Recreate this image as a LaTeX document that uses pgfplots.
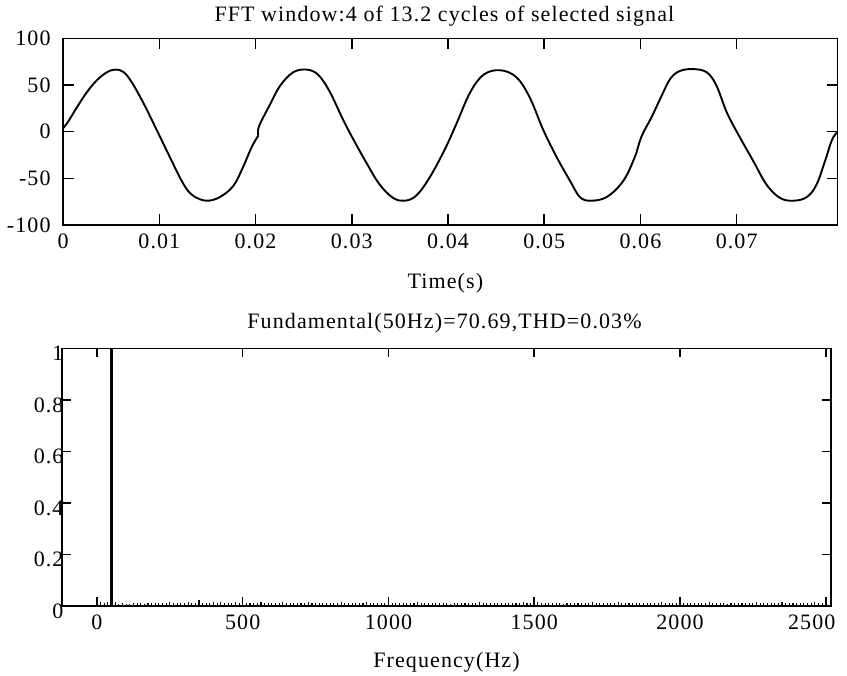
\documentclass[border=0pt]{standalone}
\usepackage{fontspec}
\setmainfont{Liberation Serif}[LetterSpace=5]
\usepackage{pgfplots}
\pgfplotsset{compat=1.18}
\newcommand\F{\fontsize{22bp}{26bp}\selectfont}

\pgfplotsset{scope box/.style={
    scale only axis,
    axis line style={line width=1.5bp},
    tick style={line width=1.5bp, black},
    tick align=inside,
    xtick pos=both, ytick pos=both,
    scaled x ticks=false, scaled y ticks=false,
    tick label style={font=\F},
    clip=false,
}}

\begin{document}
\begin{tikzpicture}

% --- time signal ---
\begin{axis}[scope box,
    at={(63.1bp,451bp)}, anchor=south west,
    width=774.6bp, height=186.7bp,
    xmin=0, xmax=0.0805, ymin=-100, ymax=100,
    major tick length=11bp,
    xtick={0,0.01,0.02,0.03,0.04,0.05,0.06,0.07},
    xticklabels={0,0.01,0.02,0.03,0.04,0.05,0.06,0.07},
    ytick={-100,-50,0,50,100},
    yticklabels={-100,-50,0,50,100},
    xticklabel style={yshift=-5bp},
    yticklabel style={xshift=-9bp},
]
\addplot[black, line width=1.9bp, smooth, tension=0.6] coordinates {
    (0,3.6) (0.00054,11) (0.0014,25.5) (0.00245,42) (0.0035,55)
    (0.00453,63.5) (0.0054,66.5) (0.00626,64) (0.00713,53) (0.00833,31)
    (0.00973,1.8) (0.0111,-27.4) (0.0125,-56) (0.0135,-68.5) (0.0149,-74)
    (0.0163,-70) (0.0177,-58) (0.0187,-38) (0.0196,-16.5) (0.0203,-4)
};
\addplot[black, line width=1.9bp, smooth, tension=0.6] coordinates {
    (0.0203,-4) (0.02035,5.5) (0.0215,29) (0.02254,49) (0.0239,63.5)
    (0.0253,66.5) (0.0265,61) (0.0277,43) (0.0291,12.7)
    (0.0302,-9) (0.0316,-34.8) (0.0329,-56.7) (0.0343,-71) (0.0355,-74)
    (0.0367,-68.5) (0.0381,-49) (0.0397,-18.3) (0.0409,9) (0.0423,42)
    (0.0437,61) (0.0454,65.8) (0.0471,58.4) (0.0485,36.5) (0.0499,1.8)
    (0.0513,-27.4) (0.0527,-53) (0.0537,-70) (0.0548,-74) (0.0565,-70)
    (0.0582,-53) (0.0594,-27.6) (0.0601,-5.5) (0.0612,16.4) (0.0622,38.4)
    (0.0631,56.6) (0.0641,65) (0.0655,67) (0.0669,63.5) (0.0679,49.3)
    (0.0690,20) (0.0703,-5.5) (0.0717,-31) (0.0731,-56.7) (0.0745,-71)
    (0.0759,-74) (0.0773,-70) (0.0783,-56.7) (0.0792,-31) (0.0799,-9)
    (0.0805,0)
};
\node[font=\F, anchor=base] at (rel axis cs:0.5,1) [xshift=-6bp, yshift=17bp]
    {FFT window:4 of 13.2 cycles of selected signal};
\node[font=\F, anchor=base] at (rel axis cs:0.5,0) [xshift=-5bp, yshift=-64bp]
    {Time(s)};
\end{axis}

% --- spectrum ---
\begin{axis}[scope box,
    at={(62bp,70bp)}, anchor=south west,
    width=769bp, height=257.5bp,
    xmin=-120, xmax=2518, ymin=0, ymax=1,
    major tick length=9bp,
    xtick={0,500,1000,1500,2000,2500},
    xticklabels={0,500,1000,1500,2000,{}},
    ytick={0,0.2,0.4,0.6,0.8,1},
    yticklabels={0,0.2,0.4,0.6,0.8,1},
    xticklabel style={yshift=-5bp},
    yticklabel style={xshift=5bp, yshift=-5bp},
]
\addplot[ycomb, black, line width=1.1bp, no marks] coordinates {
    (12.5,0.016) (25,0.012) (37.5,0.014) (62.5,0.014) (75,0.006) (87.5,0.012)
    (100,0.008) (112.5,0.006) (125,0.012) (137.5,0.011) (150,0.013) (162.5,0.009)
    (175,0.012) (187.5,0.013) (200,0.011) (212.5,0.012) (225,0.013) (237.5,0.011)
    (250,0.015) (262.5,0.012) (275,0.011) (287.5,0.013) (300,0.012) (312.5,0.015)
    (325,0.011) (337.5,0.013) (350,0.024) (362.5,0.012) (375,0.011) (387.5,0.013)
    (400,0.015) (412.5,0.012) (425,0.017) (437.5,0.011) (450,0.013) (462.5,0.012)
    (475,0.015) (487.5,0.012) (500,0.020) (512.5,0.012) (525,0.011) (537.5,0.013)
    (550,0.012) (562.5,0.015) (575,0.011) (587.5,0.012) (600,0.013) (612.5,0.011)
    (625,0.012) (637.5,0.015) (650,0.011) (662.5,0.013) (675,0.012) (687.5,0.011)
    (700,0.013) (712.5,0.012) (725,0.015) (737.5,0.011) (750,0.012) (762.5,0.013)
    (775,0.011) (787.5,0.012) (800,0.013) (812.5,0.011) (825,0.012) (837.5,0.015)
    (850,0.011) (862.5,0.013) (875,0.012) (887.5,0.011) (900,0.013) (912.5,0.012)
    (925,0.015) (937.5,0.011) (950,0.013) (962.5,0.012) (975,0.011) (987.5,0.013)
    (1000,0.026) (1012.5,0.012) (1025,0.011) (1037.5,0.013) (1050,0.012) (1062.5,0.011)
    (1075,0.013) (1087.5,0.012) (1100,0.015) (1112.5,0.011) (1125,0.012) (1137.5,0.013)
    (1150,0.011) (1162.5,0.012) (1175,0.013) (1187.5,0.011) (1200,0.012) (1212.5,0.006)
    (1225,0.012) (1237.5,0.011) (1250,0.013) (1262.5,0.012) (1275,0.011) (1287.5,0.013)
    (1300,0.012) (1312.5,0.015) (1325,0.011) (1337.5,0.012) (1350,0.013) (1362.5,0.011)
    (1375,0.012) (1387.5,0.013) (1400,0.011) (1412.5,0.012) (1425,0.013) (1437.5,0.011)
    (1450,0.012) (1462.5,0.015) (1475,0.011) (1487.5,0.013) (1500,0.030) (1512.5,0.017)
    (1525,0.012) (1537.5,0.013) (1550,0.011) (1562.5,0.012) (1575,0.013) (1587.5,0.011)
    (1600,0.006) (1612.5,0.012) (1625,0.013) (1637.5,0.011) (1650,0.012) (1662.5,0.013)
    (1675,0.011) (1687.5,0.012) (1700,0.015) (1712.5,0.011) (1725,0.013) (1737.5,0.012)
    (1750,0.011) (1762.5,0.013) (1775,0.012) (1787.5,0.015) (1800,0.011) (1812.5,0.012)
    (1825,0.013) (1837.5,0.011) (1850,0.012) (1862.5,0.013) (1875,0.011) (1887.5,0.012)
    (1900,0.013) (1912.5,0.011) (1925,0.012) (1937.5,0.015) (1950,0.011) (1962.5,0.013)
    (1975,0.012) (1987.5,0.011) (2000,0.024) (2012.5,0.012) (2025,0.011) (2037.5,0.013)
    (2050,0.012) (2062.5,0.011) (2075,0.013) (2087.5,0.012) (2100,0.015) (2112.5,0.011)
    (2125,0.012) (2137.5,0.013) (2150,0.011) (2162.5,0.006) (2175,0.012) (2187.5,0.013)
    (2200,0.011) (2212.5,0.012) (2225,0.013) (2237.5,0.011) (2250,0.012) (2262.5,0.015)
    (2275,0.011) (2287.5,0.013) (2300,0.012) (2312.5,0.011) (2325,0.013) (2337.5,0.012)
    (2350,0.015) (2362.5,0.011) (2375,0.012) (2387.5,0.013) (2400,0.011) (2412.5,0.012)
    (2425,0.013) (2437.5,0.011) (2450,0.012) (2462.5,0.015) (2475,0.011) (2487.5,0.013)
    (2500,0.012)
};
\addplot[ycomb, black, line width=2.2bp, no marks] coordinates {(50,1)};
\node[font=\F, anchor=north, xshift=-14bp, yshift=-5bp] at (axis cs:2500,0) {2500};
\node[font=\F, anchor=base] at (rel axis cs:0.5,1) [xshift=-2bp, yshift=19.5bp]
    {Fundamental(50Hz)=70.69,THD=0.03\%};
\node[font=\F, anchor=base] at (rel axis cs:0.5,0) [yshift=-61bp]
    {Frequency(Hz)};
\end{axis}

\pgfresetboundingbox
\path[use as bounding box] (0,0) rectangle (847bp,676bp);
\end{tikzpicture}
\end{document}
